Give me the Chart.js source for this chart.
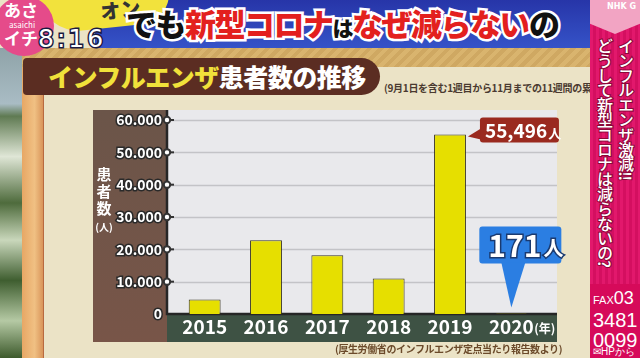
<!DOCTYPE html>
<html>
<head>
<meta charset="utf-8">
<script src="https://cdn.jsdelivr.net/npm/chart.js@4"></script>
<style>
  html, body { margin: 0; padding: 0; }
  body { width: 640px; height: 358px; position: relative; overflow: hidden; background: #ebe3c6;
         font-family: 'Noto Sans CJK JP', 'Noto Sans', sans-serif; }
  .abs { position: absolute; }
  #plants { left: 0; top: 48px; width: 24px; height: 310px;
            background: linear-gradient(180deg, #8fa3a8 0, #a9bcc4 18%, #5f7a52 22%, #dfe6d6 35%, #4e6b3c 50%, #c9d7bb 62%, #3f5e30 75%, #b5c9a4 88%, #3d5a2c 100%); }
  #woodL { left: 22px; top: 48px; width: 21px; height: 310px; background: linear-gradient(90deg, #e7a765, #f0c083 60%, #d9955a); border-right: 1px solid #b86a40; }
  #woodT { left: 22px; top: 48px; width: 568px; height: 19px; background: repeating-linear-gradient(135deg, #d9b46e 0 4px, #cfa862 4px 8px); }
  #panel { left: 43px; top: 67px; width: 547px; height: 291px; background: #ebe3c6; }
  #topbar { left: 95px; top: 0; width: 495px; height: 48px; background: linear-gradient(180deg, #2735a8, #3553c8); }
  #head { left: 126px; top: 0px; font-size: 31px; font-weight: 900; letter-spacing: -1.5px; white-space: nowrap;
          -webkit-text-stroke: 5px #fff; paint-order: stroke fill; }
  #head .k { color: #111; } #head .r { color: #e3201e; } #head .s { font-size: 21px; color: #111; }
  #yel { left: 40px; top: -14px; width: 130px; height: 42px; background: #f2e23c; border-radius: 0 0 30px 40px; transform: rotate(-6deg); }
  #yel span { position: absolute; left: 60px; top: 10px; font-size: 20px; font-weight: 900; color: #333; }
  #logo { left: -6px; top: -4px; width: 60px; height: 60px; border-radius: 50%; background: #e54b8a; color: #fff; text-align: center; }
  #logo .a { position: absolute; left: 10px; top: 5px; font-size: 17px; line-height: 17px; font-weight: 700; }
  #logo .b { position: absolute; left: 15px; top: 25px; font-size: 8px; line-height: 8px; }
  #logo .c { position: absolute; left: 10px; top: 33px; font-size: 17px; line-height: 17px; font-weight: 700; }
  #clock { left: 38px; top: 24px; font-size: 25px; line-height: 30px; color: #fff; letter-spacing: 3px;
           -webkit-text-stroke: 3px #1a1a40; paint-order: stroke fill; font-family: 'DejaVu Sans', sans-serif; }
  #title { left: 23px; top: 58px; width: 357px; height: 37px; background: #5b2d22; border-radius: 4px 19px 19px 4px; }
  #title > span { position: absolute; left: 25px; top: 0; font-size: 25px; line-height: 37px; font-weight: 900; letter-spacing: -0.5px; white-space: nowrap; }
  #title .y { color: #f1e13a; } #title .w { color: #fff; }
  #note1 { left: 384px; top: 80px; font-size: 10px; letter-spacing: -0.3px; color: #4a3a30; white-space: nowrap; font-weight: 700; }
  #note2 { left: 335px; top: 341px; font-size: 10px; letter-spacing: -0.4px; color: #6b4a2a; white-space: nowrap; font-weight: 700; }
  #ylab { left: 95px; top: 165px; width: 18px; color: #fff; font-size: 15px; line-height: 17px; font-weight: 700; text-align: center; }
  #ylab .u { font-size: 10px; }
  #chartBox { left: 93px; top: 110px; width: 473px; height: 232px; }
  #side { left: 590px; top: 0; width: 50px; height: 358px; overflow: hidden; background: repeating-linear-gradient(90deg, #e2186c 0 3px, #d40f60 3px 6px); }
  #nhk { left: 0; top: 0; width: 50px; height: 34px; background: #f2a4c3; clip-path: polygon(0 0, 100% 0, 100% 70%, 50% 100%, 0 70%); }
  #nhk span { position: absolute; right: 4px; top: 2px; font-size: 8px; color: #fff; font-weight: 700; font-family: 'DejaVu Sans', sans-serif; }
  #vtext { left: 2px; top: 38px; width: 44px; height: 250px; writing-mode: vertical-rl; font-size: 16px; line-height: 21px; letter-spacing: -1.2px; color: #fff;
           -webkit-text-stroke: 2px #8a0838; paint-order: stroke fill; font-weight: 500; white-space: nowrap; }
  #fax { left: 0; top: 284px; width: 50px; height: 74px; background: #d60a5a; color: #fff; font-family: 'Liberation Sans', sans-serif; }
  #fax div { position: absolute; left: 3px; white-space: nowrap; }
</style>
</head>
<body>
<div class="abs" id="panel"></div>
<div class="abs" id="plants"></div>
<div class="abs" id="woodL"></div>
<div class="abs" id="woodT"></div>
<div class="abs" id="topbar"></div>
<div class="abs" id="yel"><span>オン</span></div>
<div class="abs" id="head"><span class="k">でも</span><span class="r">新型コロナ</span><span class="s">は</span><span class="r">なぜ減らない</span><span class="k">の</span></div>
<div class="abs" id="logo"><div class="a">あさ</div><div class="b">asaichi</div><div class="c">イチ</div></div>
<div class="abs" id="clock">8:16</div>
<div class="abs" id="title"><span><span class="y">インフルエンザ</span><span class="w">患者数の推移</span></span></div>
<div class="abs" id="note1">(9月1日を含む1週目から11月までの11週間の累計)</div>
<div class="abs" id="chartBox"><canvas id="fluChart" width="473" height="232"></canvas></div>
<div class="abs" id="ylab">患<br>者<br>数<br><span class="u">(人)</span></div>
<div class="abs" id="note2">(厚生労働省のインフルエンザ定点当たり報告数より)</div>
<div class="abs" id="side">
  <div class="abs" id="nhk"><span>NHK G</span></div>
  <div class="abs" id="vtext">インフルエンザ激減!!<br>どうして新型コロナは減らないの?</div>
  <div class="abs" id="fax">
    <div style="top:4px;font-size:11px;">FAX<span style="font-size:18px;">03</span></div>
    <div style="top:25px;font-size:20px;line-height:22px;">3481</div>
    <div style="top:45px;font-size:20px;line-height:22px;">0099</div>
    <div style="top:62px;font-size:10px;line-height:12px;">✉HPから</div>
  </div>
</div>

<script>
// data
const years = ['2015', '2016', '2017', '2018', '2019', '2020'];
const patients = [4500, 22800, 18200, 11000, 55496, 171];
const yTickValues = [0, 10000, 20000, 30000, 40000, 50000, 60000];
const yTickLabels = ['0', '10.000', '20.000', '30.000', '40.000', '50.000', '60.000'];
const yearUnit = '(年)';
const personUnit = '人';

const font = "'Noto Sans CJK JP', sans-serif";

function roundRect(ctx, x, y, w, h, r) {
    ctx.beginPath();
    ctx.moveTo(x + r, y);
    ctx.arcTo(x + w, y, x + w, y + h, r);
    ctx.arcTo(x + w, y + h, x, y + h, r);
    ctx.arcTo(x, y + h, x, y, r);
    ctx.arcTo(x, y, x + w, y, r);
    ctx.closePath();
}

// backgrounds, grid, axis lines
const panelPlugin = {
    id: 'panel',
    beforeDraw(chart) {
        const { ctx, chartArea: a, scales: { y } } = chart;
        const H = chart.height;
        const axisX = a.left - 7;
        const plotR = a.right + 15;
        ctx.save();
        const g = ctx.createLinearGradient(0, 0, 0, H);
        g.addColorStop(0, '#6b5549');
        g.addColorStop(1, '#785548');
        ctx.fillStyle = g;
        ctx.fillRect(0, 0, axisX, H);
        ctx.fillStyle = '#e9e9ec';
        ctx.fillRect(axisX, 0, plotR - axisX, a.bottom);
        ctx.fillStyle = '#3e5244';
        ctx.fillRect(axisX, a.bottom, plotR - axisX, H - a.bottom);
        ctx.strokeStyle = '#c3c3c7';
        ctx.lineWidth = 1.5;
        yTickValues.forEach(v => {
            if (v === 0) return;
            const py = Math.round(y.getPixelForValue(v)) + 0.5;
            ctx.beginPath(); ctx.moveTo(axisX, py); ctx.lineTo(plotR, py); ctx.stroke();
        });
        ctx.strokeStyle = '#262626';
        ctx.lineWidth = 2.5;
        const y0 = y.getPixelForValue(0);
        ctx.beginPath(); ctx.moveTo(axisX, 0); ctx.lineTo(axisX, y0); ctx.lineTo(plotR, y0); ctx.stroke();
        ctx.restore();
    },
    afterDatasetsDraw(chart) {
        const { ctx, chartArea: a, scales: { x, y } } = chart;
        const axisX = a.left - 7;
        ctx.save();
        // tick dots on the axis
        yTickValues.forEach(v => {
            if (v === 0) return;
            const py = y.getPixelForValue(v);
            ctx.strokeStyle = '#333';
            ctx.lineWidth = 2;
            ctx.beginPath(); ctx.moveTo(axisX, py); ctx.lineTo(axisX + 7, py); ctx.stroke();
            ctx.fillStyle = '#fff';
            ctx.beginPath(); ctx.arc(axisX, py, 3.2, 0, Math.PI * 2); ctx.fill(); ctx.stroke();
        });

        const bars = chart.getDatasetMeta(0).data;

        // 2019 callout
        const b4 = bars[4];
        let bx = b4.x + b4.width / 2 + 14, by = b4.y - 17;
        ctx.fillStyle = '#9a2a1f';
        roundRect(ctx, bx, by, 79, 25, 3);
        ctx.fill();
        ctx.beginPath();
        ctx.moveTo(bx + 1, by + 11); ctx.lineTo(b4.x + b4.width / 2 + 2, b4.y + 2); ctx.lineTo(bx + 1, by + 22);
        ctx.closePath(); ctx.fill();
        ctx.fillStyle = '#fff';
        ctx.textBaseline = 'alphabetic';
        ctx.textAlign = 'left';
        ctx.font = `bold 19px ${font}`;
        const t4 = patients[4].toLocaleString('en-US');
        ctx.fillText(t4, bx + 5, by + 20);
        const w4 = ctx.measureText(t4).width;
        ctx.font = `bold 13px ${font}`;
        ctx.fillText(personUnit, bx + 6 + w4, by + 20);

        // 2020 callout
        const b5 = bars[5];
        bx = b5.x - 32; by = b5.y - 87;
        ctx.fillStyle = '#2b7ee2';
        roundRect(ctx, bx, by, 82, 37, 3);
        ctx.fill();
        ctx.beginPath();
        ctx.moveTo(b5.x - 10, by + 36); ctx.lineTo(b5.x, b5.y - 6); ctx.lineTo(b5.x + 14, by + 36);
        ctx.closePath(); ctx.fill();
        ctx.font = `bold 30px ${font}`;
        const t5 = String(patients[5]);
        ctx.lineWidth = 3;
        ctx.strokeStyle = '#1a3a70';
        ctx.strokeText(t5, bx + 9, by + 31);
        ctx.fillStyle = '#fff';
        ctx.fillText(t5, bx + 9, by + 31);
        const w5 = ctx.measureText(t5).width;
        ctx.font = `bold 20px ${font}`;
        ctx.strokeText(personUnit, bx + 11 + w5, by + 30);
        ctx.fillText(personUnit, bx + 11 + w5, by + 30);

        // (年) after the last year label
        const lx = x.getPixelForValue(years.length - 1) + 23;
        ctx.font = `bold 12px ${font}`;
        ctx.textBaseline = 'middle';
        ctx.fillStyle = '#fff';
        ctx.fillText(yearUnit, lx, a.bottom + 14);
        ctx.restore();
    }
};

new Chart(document.getElementById('fluChart'), {
    type: 'bar',
    data: {
        labels: years,
        datasets: [{
            data: patients,
            backgroundColor: '#e6df00',
            borderColor: '#3a3522',
            borderWidth: 1,
            barPercentage: 0.52,
            categoryPercentage: 1
        }]
    },
    options: {
        responsive: false,
        animation: false,
        layout: { padding: { left: 0, right: 24, top: 0, bottom: 0 } },
        plugins: { legend: { display: false }, tooltip: { enabled: false } },
        scales: {
            x: {
                grid: { display: false, drawTicks: false },
                border: { display: false },
                ticks: { color: '#fff', padding: 1, font: { family: font, size: 19, weight: 'bold' } },
                afterFit: s => { s.height = 28; s.paddingLeft = 0; s.paddingRight = 0; }
            },
            y: {
                min: 0,
                max: 60000,
                grid: { display: false, drawTicks: false },
                border: { display: false },
                ticks: {
                    stepSize: 10000,
                    padding: 12,
                    color: '#fff',
                    textStrokeColor: '#2a2a2a',
                    textStrokeWidth: 3,
                    font: { family: font, size: 14, weight: 'bold' },
                    callback: v => yTickLabels[yTickValues.indexOf(v)]
                },
                afterFit: s => { s.width = 81; s.paddingTop = 10; s.paddingBottom = 0; }
            }
        }
    },
    plugins: [panelPlugin]
});
</script>
</body>
</html>
